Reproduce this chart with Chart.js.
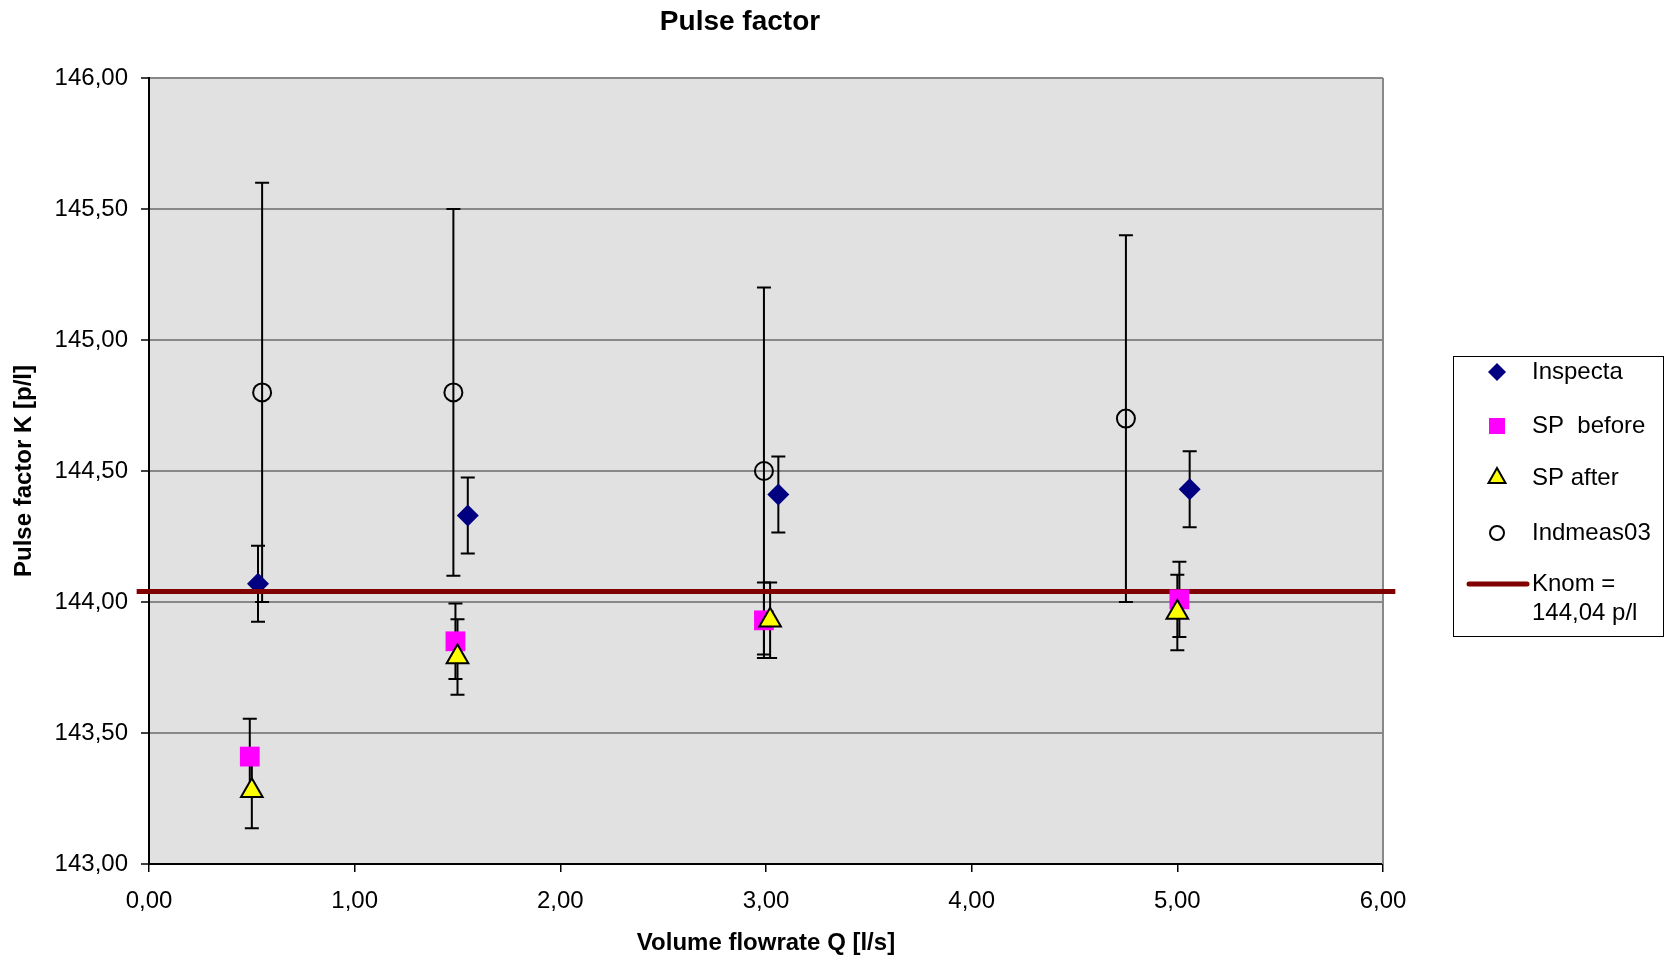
<!DOCTYPE html>
<html>
<head>
<title>Pulse factor</title>
<script src="https://cdn.jsdelivr.net/npm/chart.js"></script>
<style>
  body { margin: 0; background: #fff; }
  canvas { display: block; }
</style>
</head>
<body>
<canvas id="pulseChart" width="1664" height="963"></canvas>
<script>
// values
const inspectaX = [0.53, 1.55, 3.06, 5.06];
const inspectaY = [144.07, 144.33, 144.41, 144.43];
const inspectaErr = [0.145, 0.145, 0.145, 0.145];

const spBeforeX = [0.49, 1.49, 2.99, 5.01];
const spBeforeY = [143.41, 143.85, 143.93, 144.01];
const spBeforeErr = [0.144, 0.144, 0.144, 0.144];

const spAfterX = [0.50, 1.50, 3.02, 5.00];
const spAfterY = [143.28, 143.79, 143.93, 143.96];
const spAfterErr = [0.144, 0.144, 0.144, 0.144];

const indmeasX = [0.55, 1.48, 2.99, 4.75];
const indmeasY = [144.80, 144.80, 144.50, 144.70];
const indmeasErr = [0.80, 0.70, 0.70, 0.70];

const knomX = [-0.06, 6.06];
const knomY = [144.04, 144.04];

const xTickLabels = ['0,00', '1,00', '2,00', '3,00', '4,00', '5,00', '6,00'];
const yTickLabels = ['143,00', '143,50', '144,00', '144,50', '145,00', '145,50', '146,00'];

const toPoints = (xs, ys) => xs.map((x, i) => ({ x: x, y: ys[i] }));

Chart.defaults.font.family = "'Liberation Sans', Arial, sans-serif";
Chart.defaults.font.size = 24;
Chart.defaults.color = '#000';

// grey plot area + grey right edge
const plotFrame = {
  id: 'plotFrame',
  beforeDraw(chart) {
    const { ctx, chartArea: a } = chart;
    ctx.save();
    ctx.fillStyle = '#e1e1e1';
    ctx.fillRect(a.left, a.top, a.right - a.left, a.bottom - a.top);
    ctx.restore();
  },
  beforeDatasetsDraw(chart) {
    const { ctx, chartArea: a } = chart;
    ctx.save();
    ctx.strokeStyle = '#888';
    ctx.lineWidth = 2;
    ctx.beginPath();
    ctx.moveTo(a.right, a.top);
    ctx.lineTo(a.right, a.bottom);
    ctx.stroke();
    ctx.restore();
  }
};

// vertical error bars with caps
const errorBars = {
  id: 'errorBars',
  beforeDatasetsDraw(chart) {
    const { ctx, scales: { x, y } } = chart;
    ctx.save();
    ctx.strokeStyle = '#000';
    ctx.lineWidth = 2;
    chart.data.datasets.forEach(ds => {
      if (!ds.errors) return;
      ds.data.forEach((p, i) => {
        const px = x.getPixelForValue(p.x);
        const top = y.getPixelForValue(p.y + ds.errors[i]);
        const bot = y.getPixelForValue(p.y - ds.errors[i]);
        ctx.beginPath();
        ctx.moveTo(px, top); ctx.lineTo(px, bot);
        ctx.moveTo(px - 7, top); ctx.lineTo(px + 7, top);
        ctx.moveTo(px - 7, bot); ctx.lineTo(px + 7, bot);
        ctx.stroke();
      });
    });
    ctx.restore();
  }
};

// title + boxed legend on the right
const titleAndLegend = {
  id: 'titleAndLegend',
  afterDraw(chart) {
    const ctx = chart.ctx;
    ctx.save();
    ctx.fillStyle = '#000';
    ctx.font = "bold 28px 'Liberation Sans', Arial, sans-serif";
    ctx.textAlign = 'center';
    ctx.textBaseline = 'alphabetic';
    ctx.fillText('Pulse factor', 740, 30);

    const bx = 1453, by = 356, bw = 210, bh = 280;
    ctx.fillStyle = '#fff';
    ctx.fillRect(bx, by, bw, bh);
    ctx.strokeStyle = '#000';
    ctx.lineWidth = 1;
    ctx.strokeRect(bx + 0.5, by + 0.5, bw, bh);

    const mx = 1497, tx = 1532;
    const rows = [372, 426, 478, 533, 584];
    ctx.font = "24px 'Liberation Sans', Arial, sans-serif";
    ctx.textAlign = 'left';
    ctx.textBaseline = 'middle';
    chart.data.datasets.forEach((ds, i) => {
      const yy = rows[i];
      ctx.save();
      ctx.fillStyle = ds.backgroundColor;
      ctx.strokeStyle = ds.borderColor;
      ctx.lineWidth = ds.borderWidth || 0;
      ctx.beginPath();
      if (ds.pointStyle === 'rectRot') {
        ctx.moveTo(mx - 9, yy); ctx.lineTo(mx, yy - 9);
        ctx.lineTo(mx + 9, yy); ctx.lineTo(mx, yy + 9);
        ctx.closePath(); ctx.fill();
      } else if (ds.pointStyle === 'rect') {
        ctx.rect(mx - 8, yy - 8, 16, 16); ctx.fill();
      } else if (ds.pointStyle === 'triangle') {
        ctx.moveTo(mx, yy - 10); ctx.lineTo(mx + 8.5, yy + 5);
        ctx.lineTo(mx - 8.5, yy + 5); ctx.closePath();
        ctx.fill(); ctx.stroke();
      } else if (ds.pointStyle === 'circle') {
        ctx.arc(mx, yy, 7, 0, Math.PI * 2); ctx.stroke();
      } else {
        ctx.lineCap = 'round';
        ctx.lineWidth = 5;
        ctx.moveTo(1469, yy); ctx.lineTo(1527, yy); ctx.stroke();
      }
      ctx.restore();
      ctx.fillStyle = '#000';
      const lines = ds.label.split('\n');
      lines.forEach((t, k) => ctx.fillText(t, tx, yy + k * 29));
    });
    ctx.restore();
  }
};

new Chart(document.getElementById('pulseChart'), {
  type: 'scatter',
  data: {
    datasets: [
      {
        label: 'Inspecta',
        data: toPoints(inspectaX, inspectaY),
        errors: inspectaErr,
        pointStyle: 'rectRot',
        pointRadius: 11,
        backgroundColor: '#000080',
        borderColor: '#000080',
        borderWidth: 0,
        order: 5
      },
      {
        label: 'SP  before',
        data: toPoints(spBeforeX, spBeforeY),
        errors: spBeforeErr,
        pointStyle: 'rect',
        pointRadius: 14,
        backgroundColor: '#ff00ff',
        borderColor: '#ff00ff',
        borderWidth: 0,
        order: 3
      },
      {
        label: 'SP after',
        data: toPoints(spAfterX, spAfterY),
        errors: spAfterErr,
        pointStyle: 'triangle',
        pointRadius: 12.5,
        backgroundColor: '#ffff00',
        borderColor: '#000',
        borderWidth: 2,
        order: 2
      },
      {
        label: 'Indmeas03',
        data: toPoints(indmeasX, indmeasY),
        errors: indmeasErr,
        pointStyle: 'circle',
        pointRadius: 9,
        backgroundColor: 'rgba(0,0,0,0)',
        borderColor: '#000',
        borderWidth: 2,
        order: 1
      },
      {
        label: 'Knom =\n144,04 p/l',
        data: toPoints(knomX, knomY),
        showLine: true,
        pointRadius: 0,
        borderColor: '#800000',
        backgroundColor: '#800000',
        borderWidth: 5,
        clip: false,
        order: 4
      }
    ]
  },
  options: {
    responsive: false,
    devicePixelRatio: 1,
    animation: false,
    layout: { padding: { top: 78, right: 281, left: 0, bottom: 0 } },
    plugins: {
      legend: { display: false },
      title: { display: false },
      tooltip: { enabled: false }
    },
    scales: {
      x: {
        type: 'linear',
        min: 0,
        max: 6,
        afterFit: s => { s.height = 99; },
        ticks: {
          stepSize: 1,
          padding: 15,
          maxRotation: 0,
          callback: (v, i) => xTickLabels[i]
        },
        grid: { drawOnChartArea: false, drawTicks: true, tickLength: 8, color: '#000', lineWidth: 1.5 },
        border: { color: '#000', width: 2 },
        title: {
          display: true,
          text: 'Volume flowrate Q [l/s]',
          font: { size: 24, weight: 'bold' },
          padding: { top: 0, bottom: 5 }
        }
      },
      y: {
        min: 143,
        max: 146,
        afterFit: s => { s.width = 149; },
        ticks: {
          stepSize: 0.5,
          padding: 13,
          callback: (v, i) => yTickLabels[i]
        },
        grid: { color: '#888', lineWidth: 2, tickLength: 8, tickColor: '#000', tickWidth: 1.5 },
        border: { color: '#000', width: 2 },
        title: {
          display: true,
          text: 'Pulse factor K [p/l]',
          font: { size: 24, weight: 'bold' },
          padding: { top: 10, bottom: 0 }
        }
      }
    }
  },
  plugins: [plotFrame, errorBars, titleAndLegend]
});
</script>
</body>
</html>
